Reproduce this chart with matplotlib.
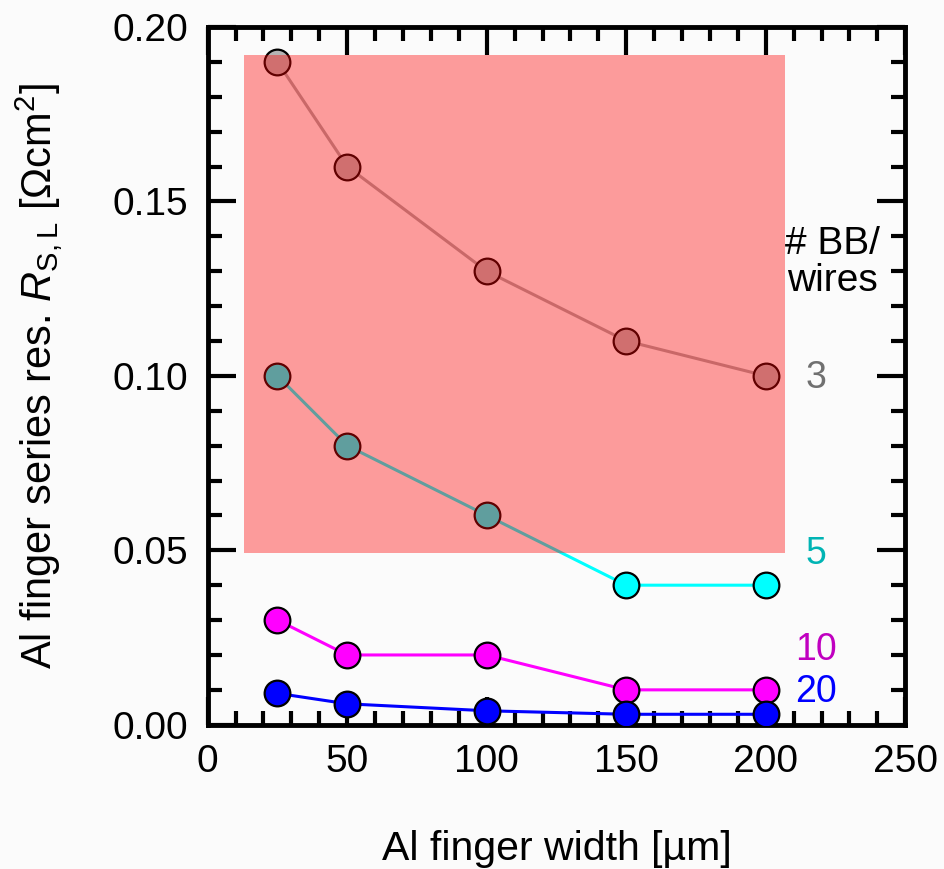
import matplotlib.pyplot as plt
from matplotlib.patches import Rectangle
from matplotlib.ticker import MultipleLocator

plt.rcParams['font.family'] = ['Liberation Sans', 'DejaVu Sans']
plt.rcParams['mathtext.fontset'] = 'custom'
plt.rcParams['mathtext.rm'] = 'Liberation Sans'
plt.rcParams['mathtext.it'] = 'Liberation Sans:italic'

# finger width [um]
width = [25, 50, 100, 150, 200]
# series resistance for number of busbars/wires
rs_3 = [0.19, 0.16, 0.13, 0.11, 0.10]
rs_5 = [0.10, 0.08, 0.06, 0.04, 0.04]
rs_10 = [0.03, 0.02, 0.02, 0.01, 0.01]
rs_20 = [0.009, 0.006, 0.004, 0.003, 0.003]

series = [
    (rs_3, '#a8a8a8', '#b4b4b4', '3', '#707070', 0.0995),
    (rs_5, '#00ffff', '#00ffff', '5', '#00b4b4', 0.049),
    (rs_10, '#ff00ff', '#ff00ff', '10', '#c000c0', 0.0215),
    (rs_20, '#0000ff', '#0000ff', '20', '#0000ff', 0.0095),
]

fig = plt.figure(figsize=(9.44, 8.69), dpi=100, facecolor='#fbfbfb')
ax = fig.add_axes([0.220, 0.166, 0.739, 0.803])
ax.set_facecolor('#fbfbfb')

for ys, lc, fc, lab, tc, ty in series:
    ax.plot(width, ys, '-', color=lc, lw=2.2, marker='o', ms=18.5,
            mfc=fc, mec='black', mew=1.6, zorder=3)
    ax.text(218, ty, lab, color=tc, fontsize=27, ha='center', va='center')

ax.text(224, 0.1325, '# BB/\nwires', fontsize=28, ha='center', va='center',
        linespacing=1.05)

# shaded region
ax.add_patch(Rectangle((13, 0.0493), 194, 0.1427, facecolor='red',
                       alpha=0.38, edgecolor='none', zorder=5))

ax.set_xlim(0, 250)
ax.set_ylim(0, 0.20)
ax.xaxis.set_major_locator(MultipleLocator(50))
ax.xaxis.set_minor_locator(MultipleLocator(10))
ax.yaxis.set_major_locator(MultipleLocator(0.05))
ax.yaxis.set_minor_locator(MultipleLocator(0.01))
ax.yaxis.set_major_formatter(plt.FormatStrFormatter('%.2f'))
ax.tick_params(which='both', direction='in', top=True, right=True,
               width=3, labelsize=28, colors='black')
ax.tick_params(which='major', length=20, pad=14)
ax.tick_params(which='minor', length=10)
for s in ax.spines.values():
    s.set_linewidth(3.5)

ax.set_xlabel('Al finger width [µm]', fontsize=29.5, labelpad=36)
ax.set_ylabel(r'Al finger series res. $R_{\mathrm{S,L}}$ [$\Omega$cm$^2$]',
              fontsize=30, labelpad=34)

fig.savefig('out.png', dpi=100, facecolor=fig.get_facecolor())
